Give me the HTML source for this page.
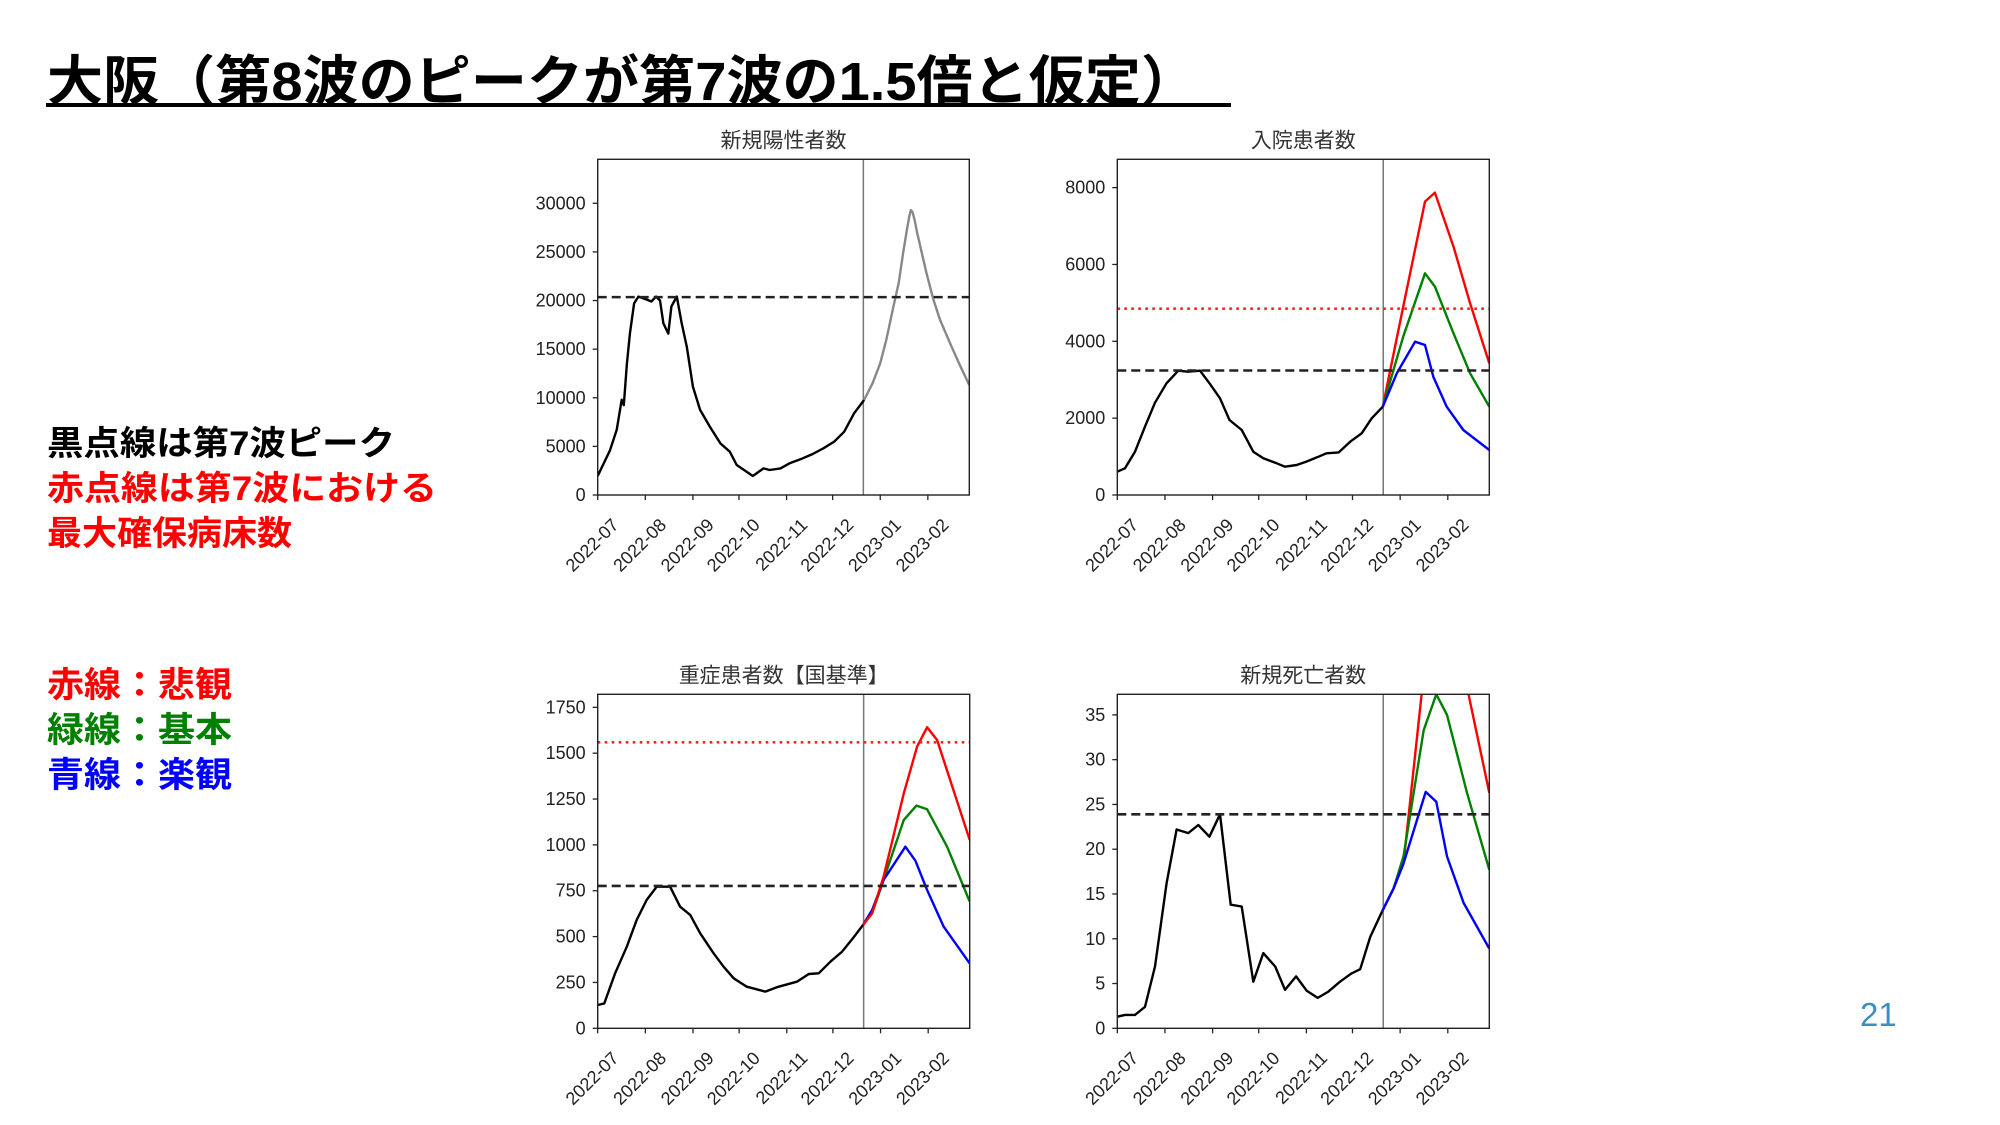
<!DOCTYPE html>
<html><head><meta charset="utf-8">
<style>
html,body{margin:0;padding:0;background:#fff;}
svg{display:block;}
.tk{font-family:"Liberation Sans","DejaVu Sans",sans-serif;font-size:18px;fill:#222;}
.ttl{font-family:"Liberation Sans","Noto Sans CJK JP",sans-serif;font-size:21px;fill:#333;}
.jp{font-family:"Liberation Sans","Noto Sans CJK JP",sans-serif;font-weight:bold;}
</style></head>
<body>
<svg id="root" width="2000" height="1125" viewBox="0 0 2000 1125" xmlns="http://www.w3.org/2000/svg">
<text class="jp" x="47" y="100" font-size="54" textLength="1150" lengthAdjust="spacingAndGlyphs" fill="#000">大阪（第8波のピークが第7波の1.5倍と仮定）</text>
<rect x="46" y="103" width="1185" height="4" fill="#000"/>
<g>
<text class="jp" x="47" y="455" font-size="34" textLength="348" lengthAdjust="spacingAndGlyphs" fill="#000">黒点線は第7波ピーク</text>
<text class="jp" x="47" y="500" font-size="34" textLength="390" lengthAdjust="spacingAndGlyphs" fill="#ff0000">赤点線は第7波における</text>
<text class="jp" x="47" y="545" font-size="34" textLength="245" lengthAdjust="spacingAndGlyphs" fill="#ff0000">最大確保病床数</text>
</g>
<g>
<text class="jp" x="47" y="697" font-size="35" textLength="185" lengthAdjust="spacingAndGlyphs" fill="#ff0000">赤線：悲観</text>
<text class="jp" x="47" y="742" font-size="35" textLength="185" lengthAdjust="spacingAndGlyphs" fill="#008000">緑線：基本</text>
<text class="jp" x="47" y="787" font-size="35" textLength="185" lengthAdjust="spacingAndGlyphs" fill="#0000ff">青線：楽観</text>
</g>
<text x="1860" y="1026" font-family="Liberation Sans, sans-serif" font-size="33" fill="#3b8ec2">21</text>
<g id="charts"></g>
</svg>
<script>
// shared x axis (days since 2022-07-01)
const monthTickDays = [0, 31, 62, 92, 123, 153, 184, 215];
const monthTickLabels = ["2022-07","2022-08","2022-09","2022-10","2022-11","2022-12","2023-01","2023-02"];
const xDomainMax = 242;
const forecastStartDay = 173;

// Chart 1: new positives
const posDays = [0,8,12.4,15.6,17,19,21,23.7,26.5,32,35,38,40.6,42.8,46,48,51.5,54.7,58,62,66.7,73,80,86,90.5,97,101,108,112,119,125,132,140,147,154,160.5,167,173.5];
const posValues = [1950,4600,6700,9800,9250,13500,16600,19700,20400,20100,19900,20400,20000,17650,16600,19400,20400,17650,15250,11150,8750,7030,5300,4450,3090,2400,1950,2740,2570,2740,3260,3670,4220,4800,5490,6510,8400,9770];
const posFcDays = [173.5,179,184,188,192.6,196,199,201.5,203,204,205,206.5,208,210.5,214,218.7,223,229.5,236,242];
const posFcValues = [9770,11500,13540,16000,19370,21800,25000,27400,28700,29300,29100,28200,27000,25300,22900,20060,18000,15600,13300,11300];
const posPeakRef = 20350;
const posYTicks = [0,5000,10000,15000,20000,25000,30000];

// Chart 2: inpatients
const hospDays = [0,5,11.5,18,24.5,32,39.7,46,53.8,60,66.8,73,80.9,88.5,95,103.7,109,116.7,123,130,136,144,151.5,159,165.5,172.7];
const hospValues = [607,694,1128,1779,2403,2907,3236,3210,3236,2907,2516,1952,1692,1128,954,824,737,781,868,980,1085,1110,1388,1605,1996,2299];
const hospRedDays = [172.7,186,200.2,206.6,218.7,229.5,242];
const hospRedValues = [2299,4902,7635,7870,6464,4989,3427];
const hospGreenDays = [172.7,186,200.2,206.6,218.7,229.5,242];
const hospGreenValues = [2299,4121,5770,5423,4208,3167,2299];
const hospBlueDays = [172.7,181.8,193.7,200.2,205.6,214.3,225.1,242];
const hospBlueValues = [2299,3167,3991,3904,3080,2299,1692,1171];
const hospPeakRef = 3240;
const hospBedMax = 4850;
const hospYTicks = [0,2000,4000,6000,8000];

// Chart 3: severe patients
const sevDays = [0,4.3,11.3,18.9,25.4,31.9,38.4,47.1,53.6,60.2,66.7,75.4,81.9,88.4,97,109,116.6,129.6,137.3,143.8,151.4,159,165.5,172.6];
const sevValues = [127,136,300,445,591,700,772,772,663,618,518,409,336,273,227,200,224,254,296,300,363,418,485,563];
const sevRedDays = [172.6,178.5,186,199.1,207.8,214.3,220.8,242];
const sevRedValues = [563,627,827,1281,1536,1641,1572,1027];
const sevGreenDays = [172.6,178.5,186,199.1,207.4,214.3,227.3,242];
const sevGreenValues = [563,627,809,1136,1214,1194,990,691];
const sevBlueDays = [172.6,178.5,186,200.2,206.7,214.3,225.1,242];
const sevBlueValues = [563,645,809,990,914,754,554,354];
const sevPeakRef = 776;
const sevBedMax = 1559;
const sevYTicks = [0,250,500,750,1000,1250,1500,1750];

// Chart 4: new deaths
const deathDays = [0,5,11.5,18,24.5,32.1,38.6,46.2,52.7,59.9,66.8,73.8,80.9,88.5,95,102.7,109.1,116.3,123.2,130.4,137.3,144.9,152.1,158,164.5,172.1];
const deathValues = [1.3,1.5,1.5,2.4,6.9,16.2,22.2,21.8,22.7,21.4,23.9,13.8,13.6,5.2,8.4,6.9,4.3,5.8,4.2,3.4,4.1,5.2,6.1,6.6,10.2,13.0];
const deathRedDays = [172.1,179.7,186.2,198.1,205,213,228.5,242];
const deathRedValues = [13.0,15.6,18.4,37.5,44,42,37.3,26.3];
const deathGreenDays = [172.1,179.7,186.2,199.3,207.5,214.5,227.5,242];
const deathGreenValues = [13.0,15.6,19.2,33.3,37.3,35,26.3,17.7];
const deathBlueDays = [172.1,179.7,186.2,200.6,207.5,214.5,225.3,242];
const deathBlueValues = [13.0,15.6,18.4,26.4,25.3,19.2,14,8.9];
const deathPeakRef = 23.9;
const deathYTicks = [0,5,10,15,20,25,30,35];

const NS = "http://www.w3.org/2000/svg";
const root = document.getElementById("charts");
function mk(tag, attrs, parent){
  const e = document.createElementNS(NS, tag);
  for (const k in attrs) e.setAttribute(k, attrs[k]);
  parent.appendChild(e);
  return e;
}
function drawChart(cfg){
  const g = mk("g", {}, root);
  
  
  const sx = d => cfg.L + (d / xDomainMax) * (cfg.R - cfg.L);
  const sy = v => cfg.B - (v / cfg.ymax) * (cfg.B - cfg.T);
  const cid = cfg.name + "-clip";
  const cp = mk("clipPath", {id: cid}, g);
  mk("rect", {x: cfg.L, y: cfg.T, width: cfg.R - cfg.L, height: cfg.B - cfg.T}, cp);
  const t = mk("text", {x: (cfg.L + cfg.R) / 2, y: cfg.T - 12, "text-anchor": "middle", class: "ttl"}, g);
  t.textContent = cfg.title;
  
  
  const plot = mk("g", {"clip-path": "url(#" + cid + ")"}, g);
  function hline(v, color, dash, name){
    const l = mk("line", {x1: cfg.L, x2: cfg.R, y1: sy(v), y2: sy(v), stroke: color, "stroke-width": 2.6, "stroke-dasharray": dash}, plot);
    
    
  }
  function series(days, vals, color, name){
    let d = "";
    for (let i = 0; i < days.length; i++) d += (i ? "L" : "M") + sx(days[i]).toFixed(1) + "," + sy(vals[i]).toFixed(1);
    const p = mk("path", {d: d, fill: "none", stroke: color, "stroke-width": 2.4, "stroke-linejoin": "round"}, plot);
    
    
  }
  const vl = mk("line", {x1: sx(forecastStartDay), x2: sx(forecastStartDay), y1: cfg.T, y2: cfg.B, stroke: "#777", "stroke-width": 1.5}, plot);
  
  
  cfg.series.forEach(s => series(s[0], s[1], s[2], s[3]));
  if (cfg.bed !== undefined) hline(cfg.bed, "#ff2020", "2.6 4.4", "max-bed-line");
  hline(cfg.peak, "#222", "9 5", "wave7-peak-line");
  const fr = mk("rect", {x: cfg.L, y: cfg.T, width: cfg.R - cfg.L, height: cfg.B - cfg.T, fill: "none", stroke: "#222", "stroke-width": 1.4}, g);
  
  
  cfg.yticks.forEach(v => {
    const y = sy(v);
    const tl = mk("line", {x1: cfg.L - 5, x2: cfg.L, y1: y, y2: y, stroke: "#222", "stroke-width": 1.3}, g);
    
    
    const tx = mk("text", {x: cfg.L - 12, y: y + 6, "text-anchor": "end", class: "tk"}, g);
    tx.textContent = String(v);
    
    
  });
  monthTickDays.forEach((d, i) => {
    const x = sx(d);
    const tl = mk("line", {x1: x, x2: x, y1: cfg.B, y2: cfg.B + 5, stroke: "#222", "stroke-width": 1.3}, g);
    
    
    const ax = x + 22, ay = cfg.B + 31;
    const tx = mk("text", {x: ax, y: ay, "text-anchor": "end", class: "tk", transform: "rotate(-45 " + ax + " " + ay + ")"}, g);
    tx.textContent = monthTickLabels[i];
    
    
  });
}
drawChart({name: "positives-chart", title: "新規陽性者数", L: 597.7, R: 969.3, T: 159.3, B: 495, ymax: 34525, yticks: posYTicks, peak: posPeakRef,
  series: [[posDays, posValues, "#000", "actual-line"], [posFcDays, posFcValues, "#888", "forecast-line"]]});
drawChart({name: "inpatients-chart", title: "入院患者数", L: 1117.3, R: 1489.3, T: 159.3, B: 495, ymax: 8737, yticks: hospYTicks, peak: hospPeakRef, bed: hospBedMax,
  series: [[hospDays, hospValues, "#000", "actual-line"], [hospRedDays, hospRedValues, "#ff0000", "pessimistic-line"], [hospGreenDays, hospGreenValues, "#008000", "base-line"], [hospBlueDays, hospBlueValues, "#0000ff", "optimistic-line"]]});
drawChart({name: "severe-chart", title: "重症患者数【国基準】", L: 597.7, R: 969.7, T: 694.3, B: 1028.3, ymax: 1821, yticks: sevYTicks, peak: sevPeakRef, bed: sevBedMax,
  series: [[sevDays, sevValues, "#000", "actual-line"], [sevGreenDays, sevGreenValues, "#008000", "base-line"], [sevBlueDays, sevBlueValues, "#0000ff", "optimistic-line"], [sevRedDays, sevRedValues, "#ff0000", "pessimistic-line"]]});
drawChart({name: "deaths-chart", title: "新規死亡者数", L: 1117.3, R: 1489.3, T: 694.3, B: 1028.3, ymax: 37.3, yticks: deathYTicks, peak: deathPeakRef,
  series: [[deathDays, deathValues, "#000", "actual-line"], [deathRedDays, deathRedValues, "#ff0000", "pessimistic-line"], [deathGreenDays, deathGreenValues, "#008000", "base-line"], [deathBlueDays, deathBlueValues, "#0000ff", "optimistic-line"]]});
</script>
</body></html>
